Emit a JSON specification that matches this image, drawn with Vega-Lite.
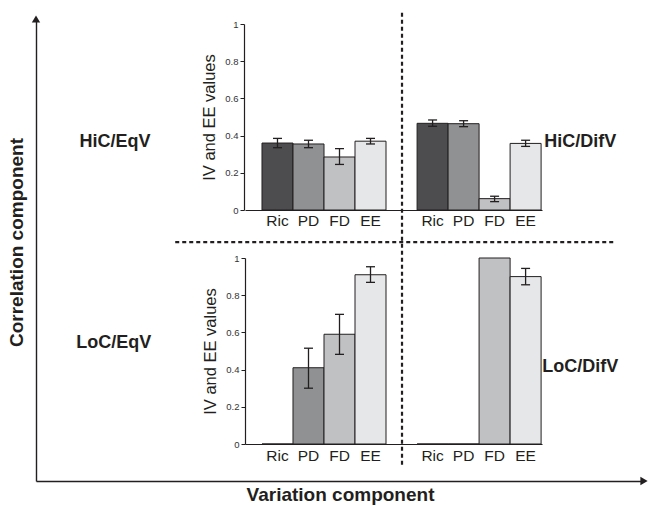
{
  "$schema": "https://vega.github.io/schema/vega-lite/v6.json",
  "width": 608,
  "height": 462,
  "autosize": {"type": "none"},
  "padding": {"left": 36, "top": 19, "right": 5, "bottom": 25},
  "background": "white",
  "config": {
    "view": {"stroke": null},
    "font": "Liberation Sans",
    "axis": {"grid": false}
  },
  "datasets": {
    "bars": [
      {"corr": "HiC", "var": "EqV", "measure": "Ric", "value": 0.36, "lo": 0.335, "hi": 0.385},
      {"corr": "HiC", "var": "EqV", "measure": "PD", "value": 0.355, "lo": 0.335, "hi": 0.375},
      {"corr": "HiC", "var": "EqV", "measure": "FD", "value": 0.285, "lo": 0.245, "hi": 0.33},
      {"corr": "HiC", "var": "EqV", "measure": "EE", "value": 0.37, "lo": 0.355, "hi": 0.385},
      {"corr": "HiC", "var": "DifV", "measure": "Ric", "value": 0.466, "lo": 0.45, "hi": 0.484},
      {"corr": "HiC", "var": "DifV", "measure": "PD", "value": 0.464, "lo": 0.448, "hi": 0.48},
      {"corr": "HiC", "var": "DifV", "measure": "FD", "value": 0.061, "lo": 0.045, "hi": 0.074},
      {"corr": "HiC", "var": "DifV", "measure": "EE", "value": 0.358, "lo": 0.342, "hi": 0.375},
      {"corr": "LoC", "var": "EqV", "measure": "Ric", "value": 0, "lo": null, "hi": null},
      {"corr": "LoC", "var": "EqV", "measure": "PD", "value": 0.41, "lo": 0.30, "hi": 0.515},
      {"corr": "LoC", "var": "EqV", "measure": "FD", "value": 0.59, "lo": 0.482, "hi": 0.697},
      {"corr": "LoC", "var": "EqV", "measure": "EE", "value": 0.91, "lo": 0.869, "hi": 0.953},
      {"corr": "LoC", "var": "DifV", "measure": "Ric", "value": 0, "lo": null, "hi": null},
      {"corr": "LoC", "var": "DifV", "measure": "PD", "value": 0, "lo": null, "hi": null},
      {"corr": "LoC", "var": "DifV", "measure": "FD", "value": 1.0, "lo": null, "hi": null},
      {"corr": "LoC", "var": "DifV", "measure": "EE", "value": 0.90, "lo": 0.856, "hi": 0.944}
    ],
    "guides": [
      {"divider": "variation split", "var_from": 0.602, "var_to": 0.602, "cor_from": 0.035, "cor_to": 1.015},
      {"divider": "correlation split", "var_from": 0.229, "var_to": 0.952, "cor_from": 0.517, "cor_to": 0.517}
    ],
    "quadrants": [
      {"label": "HiC/EqV", "var_pos": 0.13, "cor_pos": 0.734},
      {"label": "LoC/EqV", "var_pos": 0.128, "cor_pos": 0.299},
      {"label": "HiC/DifV", "var_pos": 0.895, "cor_pos": 0.734},
      {"label": "LoC/DifV", "var_pos": 0.895, "cor_pos": 0.247}
    ],
    "arrows": [
      {"axis": "correlation", "var_pos": 0, "cor_pos": 1},
      {"axis": "variation", "var_pos": 1, "cor_pos": 0}
    ]
  },
  "resolve": {
    "scale": {"x": "independent", "y": "independent"},
    "axis": {"x": "independent", "y": "independent"}
  },
  "layer": [
    {
      "layer": [
        {
          "data": {"name": "guides"},
          "mark": {"type": "rule", "strokeDash": [4, 3], "strokeWidth": 2.2, "color": "#231f20"},
          "encoding": {
            "x": {"field": "var_from", "type": "quantitative", "scale": {"domain": [0, 1], "nice": false, "zero": false},
              "axis": {"orient": "bottom", "labels": false, "ticks": false, "domainColor": "#231f20", "domainWidth": 1.4,
                "title": "Variation component", "titleFontSize": 19, "titleFontWeight": "bold", "titleColor": "#231f20", "titlePadding": 4}},
            "x2": {"field": "var_to"},
            "y": {"field": "cor_from", "type": "quantitative", "scale": {"domain": [0, 1], "nice": false, "zero": false},
              "axis": {"orient": "left", "labels": false, "ticks": false, "domainColor": "#231f20", "domainWidth": 1.4,
                "title": "Correlation component", "titleFontSize": 19, "titleFontWeight": "bold", "titleColor": "#231f20", "titlePadding": 10, "titleY": 223}},
            "y2": {"field": "cor_to"}
          }
        },
        {
          "data": {"name": "quadrants"},
          "mark": {"type": "text", "fontSize": 18, "fontWeight": "bold", "color": "#231f20", "align": "center", "baseline": "middle"},
          "encoding": {
            "x": {"field": "var_pos", "type": "quantitative", "scale": {"domain": [0, 1], "nice": false, "zero": false},
              "axis": {"orient": "bottom", "labels": false, "ticks": false, "domainColor": "#231f20", "domainWidth": 1.4,
                "title": "Variation component", "titleFontSize": 19, "titleFontWeight": "bold", "titleColor": "#231f20", "titlePadding": 4}},
            "y": {"field": "cor_pos", "type": "quantitative", "scale": {"domain": [0, 1], "nice": false, "zero": false},
              "axis": {"orient": "left", "labels": false, "ticks": false, "domainColor": "#231f20", "domainWidth": 1.4,
                "title": "Correlation component", "titleFontSize": 19, "titleFontWeight": "bold", "titleColor": "#231f20", "titlePadding": 10, "titleY": 223}},
            "text": {"field": "label"}
          }
        },
        {
          "data": {"name": "arrows"},
          "mark": {"type": "point", "filled": true, "size": 70, "color": "#231f20", "opacity": 1},
          "encoding": {
            "x": {"field": "var_pos", "type": "quantitative", "scale": {"domain": [0, 1], "nice": false, "zero": false},
              "axis": {"orient": "bottom", "labels": false, "ticks": false, "domainColor": "#231f20", "domainWidth": 1.4,
                "title": "Variation component", "titleFontSize": 19, "titleFontWeight": "bold", "titleColor": "#231f20", "titlePadding": 4}},
            "y": {"field": "cor_pos", "type": "quantitative", "scale": {"domain": [0, 1], "nice": false, "zero": false},
              "axis": {"orient": "left", "labels": false, "ticks": false, "domainColor": "#231f20", "domainWidth": 1.4,
                "title": "Correlation component", "titleFontSize": 19, "titleFontWeight": "bold", "titleColor": "#231f20", "titlePadding": 10, "titleY": 223}},
            "shape": {"field": "axis", "type": "nominal", "legend": null,
              "scale": {"domain": ["correlation", "variation"], "range": ["triangle-up", "triangle-right"]}}
          }
        }
      ]
    },
    {
      "data": {"name": "bars"},
      "transform": [{"filter": "datum.corr === 'HiC' && datum.var === 'EqV'"}],
      "encoding": {
        "x": {"field": "measure", "type": "nominal", "sort": ["Ric", "PD", "FD", "EE"],
          "scale": {"domain": ["Ric", "PD", "FD", "EE"], "range": [209, 367], "paddingInner": 0, "paddingOuter": 0.548},
          "axis": {"orient": "bottom", "offset": -271, "title": null, "ticks": false, "labelAngle": 0, "labelFontSize": 15.5, "labelColor": "#231f20", "labelPadding": 3, "domainColor": "#231f20", "domainWidth": 1.2}}
      },
      "layer": [
        {
          "mark": {"type": "bar", "stroke": "#231f20", "strokeWidth": 1},
          "encoding": {
            "y": {"field": "value", "type": "quantitative", "scale": {"domain": [0, 1], "range": [191, 5], "nice": false},
              "axis": {"orient": "left", "offset": -208, "title": "IV and EE values", "titleFontSize": 16.5, "titleFontWeight": "normal", "titleColor": "#231f20", "titlePadding": 7,
                "values": [0, 0.2, 0.4, 0.6, 0.8, 1], "format": "~g", "labelFontSize": 9.5, "labelColor": "#333333", "tickSize": 4, "tickColor": "#231f20", "domainColor": "#231f20", "domainWidth": 1.2}},
            "color": {"field": "measure", "type": "nominal", "legend": null,
              "scale": {"domain": ["Ric", "PD", "FD", "EE"], "range": ["#4d4d4f", "#8f9193", "#c0c1c3", "#e6e7e8"]}}
          }
        },
        {
          "mark": {"type": "rule", "color": "#231f20", "strokeWidth": 1.3},
          "encoding": {
            "y": {"field": "lo", "type": "quantitative", "scale": {"domain": [0, 1], "range": [191, 5], "nice": false},
              "axis": {"orient": "left", "offset": -208, "title": "IV and EE values", "titleFontSize": 16.5, "titleFontWeight": "normal", "titleColor": "#231f20", "titlePadding": 7,
                "values": [0, 0.2, 0.4, 0.6, 0.8, 1], "format": "~g", "labelFontSize": 9.5, "labelColor": "#333333", "tickSize": 4, "tickColor": "#231f20", "domainColor": "#231f20", "domainWidth": 1.2}},
            "y2": {"field": "hi"}
          }
        },
        {
          "mark": {"type": "tick", "color": "#231f20", "size": 9, "thickness": 1.3, "opacity": 1},
          "encoding": {"y": {"field": "lo", "type": "quantitative", "scale": {"domain": [0, 1], "range": [191, 5], "nice": false},
              "axis": {"orient": "left", "offset": -208, "title": "IV and EE values", "titleFontSize": 16.5, "titleFontWeight": "normal", "titleColor": "#231f20", "titlePadding": 7,
                "values": [0, 0.2, 0.4, 0.6, 0.8, 1], "format": "~g", "labelFontSize": 9.5, "labelColor": "#333333", "tickSize": 4, "tickColor": "#231f20", "domainColor": "#231f20", "domainWidth": 1.2}}}
        },
        {
          "mark": {"type": "tick", "color": "#231f20", "size": 9, "thickness": 1.3, "opacity": 1},
          "encoding": {"y": {"field": "hi", "type": "quantitative", "scale": {"domain": [0, 1], "range": [191, 5], "nice": false},
              "axis": {"orient": "left", "offset": -208, "title": "IV and EE values", "titleFontSize": 16.5, "titleFontWeight": "normal", "titleColor": "#231f20", "titlePadding": 7,
                "values": [0, 0.2, 0.4, 0.6, 0.8, 1], "format": "~g", "labelFontSize": 9.5, "labelColor": "#333333", "tickSize": 4, "tickColor": "#231f20", "domainColor": "#231f20", "domainWidth": 1.2}}}
        }
      ]
    },
    {
      "data": {"name": "bars"},
      "transform": [{"filter": "datum.corr === 'HiC' && datum.var === 'DifV'"}],
      "encoding": {
        "x": {"field": "measure", "type": "nominal", "sort": ["Ric", "PD", "FD", "EE"],
          "scale": {"domain": ["Ric", "PD", "FD", "EE"], "range": [364, 506], "paddingInner": 0, "paddingOuter": 0.29, "align": 0.95},
          "axis": {"orient": "bottom", "offset": -271, "title": null, "ticks": false, "labelAngle": 0, "labelFontSize": 15.5, "labelColor": "#231f20", "labelPadding": 3, "domainColor": "#231f20", "domainWidth": 1.2}}
      },
      "layer": [
        {
          "mark": {"type": "bar", "stroke": "#231f20", "strokeWidth": 1},
          "encoding": {
            "y": {"field": "value", "type": "quantitative", "scale": {"domain": [0, 1], "range": [191, 5], "nice": false}, "axis": null},
            "color": {"field": "measure", "type": "nominal", "legend": null,
              "scale": {"domain": ["Ric", "PD", "FD", "EE"], "range": ["#4d4d4f", "#8f9193", "#c0c1c3", "#e6e7e8"]}}
          }
        },
        {
          "mark": {"type": "rule", "color": "#231f20", "strokeWidth": 1.3},
          "encoding": {
            "y": {"field": "lo", "type": "quantitative", "scale": {"domain": [0, 1], "range": [191, 5], "nice": false}, "axis": null},
            "y2": {"field": "hi"}
          }
        },
        {
          "mark": {"type": "tick", "color": "#231f20", "size": 9, "thickness": 1.3, "opacity": 1},
          "encoding": {"y": {"field": "lo", "type": "quantitative", "scale": {"domain": [0, 1], "range": [191, 5], "nice": false}, "axis": null}}
        },
        {
          "mark": {"type": "tick", "color": "#231f20", "size": 9, "thickness": 1.3, "opacity": 1},
          "encoding": {"y": {"field": "hi", "type": "quantitative", "scale": {"domain": [0, 1], "range": [191, 5], "nice": false}, "axis": null}}
        }
      ]
    },
    {
      "data": {"name": "bars"},
      "transform": [{"filter": "datum.corr === 'LoC' && datum.var === 'EqV'"}],
      "encoding": {
        "x": {"field": "measure", "type": "nominal", "sort": ["Ric", "PD", "FD", "EE"],
          "scale": {"domain": ["Ric", "PD", "FD", "EE"], "range": [209, 367], "paddingInner": 0, "paddingOuter": 0.548},
          "axis": {"orient": "bottom", "offset": -37, "title": null, "ticks": false, "labelAngle": 0, "labelFontSize": 15.5, "labelColor": "#231f20", "labelPadding": 4, "domainColor": "#231f20", "domainWidth": 1.2}}
      },
      "layer": [
        {
          "mark": {"type": "bar", "stroke": "#231f20", "strokeWidth": 1},
          "encoding": {
            "y": {"field": "value", "type": "quantitative", "scale": {"domain": [0, 1], "range": [425, 239], "nice": false},
              "axis": {"orient": "left", "offset": -209, "title": "IV and EE values", "titleFontSize": 16.5, "titleFontWeight": "normal", "titleColor": "#231f20", "titlePadding": 7,
                "values": [0, 0.2, 0.4, 0.6, 0.8, 1], "format": "~g", "labelFontSize": 9.5, "labelColor": "#333333", "tickSize": 4, "tickColor": "#231f20", "domainColor": "#231f20", "domainWidth": 1.2}},
            "color": {"field": "measure", "type": "nominal", "legend": null,
              "scale": {"domain": ["Ric", "PD", "FD", "EE"], "range": ["#4d4d4f", "#8f9193", "#c0c1c3", "#e6e7e8"]}}
          }
        },
        {
          "mark": {"type": "rule", "color": "#231f20", "strokeWidth": 1.3},
          "encoding": {
            "y": {"field": "lo", "type": "quantitative", "scale": {"domain": [0, 1], "range": [425, 239], "nice": false},
              "axis": {"orient": "left", "offset": -209, "title": "IV and EE values", "titleFontSize": 16.5, "titleFontWeight": "normal", "titleColor": "#231f20", "titlePadding": 7,
                "values": [0, 0.2, 0.4, 0.6, 0.8, 1], "format": "~g", "labelFontSize": 9.5, "labelColor": "#333333", "tickSize": 4, "tickColor": "#231f20", "domainColor": "#231f20", "domainWidth": 1.2}},
            "y2": {"field": "hi"}
          }
        },
        {
          "mark": {"type": "tick", "color": "#231f20", "size": 9, "thickness": 1.3, "opacity": 1},
          "encoding": {"y": {"field": "lo", "type": "quantitative", "scale": {"domain": [0, 1], "range": [425, 239], "nice": false},
              "axis": {"orient": "left", "offset": -209, "title": "IV and EE values", "titleFontSize": 16.5, "titleFontWeight": "normal", "titleColor": "#231f20", "titlePadding": 7,
                "values": [0, 0.2, 0.4, 0.6, 0.8, 1], "format": "~g", "labelFontSize": 9.5, "labelColor": "#333333", "tickSize": 4, "tickColor": "#231f20", "domainColor": "#231f20", "domainWidth": 1.2}}}
        },
        {
          "mark": {"type": "tick", "color": "#231f20", "size": 9, "thickness": 1.3, "opacity": 1},
          "encoding": {"y": {"field": "hi", "type": "quantitative", "scale": {"domain": [0, 1], "range": [425, 239], "nice": false},
              "axis": {"orient": "left", "offset": -209, "title": "IV and EE values", "titleFontSize": 16.5, "titleFontWeight": "normal", "titleColor": "#231f20", "titlePadding": 7,
                "values": [0, 0.2, 0.4, 0.6, 0.8, 1], "format": "~g", "labelFontSize": 9.5, "labelColor": "#333333", "tickSize": 4, "tickColor": "#231f20", "domainColor": "#231f20", "domainWidth": 1.2}}}
        }
      ]
    },
    {
      "data": {"name": "bars"},
      "transform": [{"filter": "datum.corr === 'LoC' && datum.var === 'DifV'"}],
      "encoding": {
        "x": {"field": "measure", "type": "nominal", "sort": ["Ric", "PD", "FD", "EE"],
          "scale": {"domain": ["Ric", "PD", "FD", "EE"], "range": [364, 506], "paddingInner": 0, "paddingOuter": 0.29, "align": 0.95},
          "axis": {"orient": "bottom", "offset": -37, "title": null, "ticks": false, "labelAngle": 0, "labelFontSize": 15.5, "labelColor": "#231f20", "labelPadding": 4, "domainColor": "#231f20", "domainWidth": 1.2}}
      },
      "layer": [
        {
          "mark": {"type": "bar", "stroke": "#231f20", "strokeWidth": 1},
          "encoding": {
            "y": {"field": "value", "type": "quantitative", "scale": {"domain": [0, 1], "range": [425, 239], "nice": false}, "axis": null},
            "color": {"field": "measure", "type": "nominal", "legend": null,
              "scale": {"domain": ["Ric", "PD", "FD", "EE"], "range": ["#4d4d4f", "#8f9193", "#c0c1c3", "#e6e7e8"]}}
          }
        },
        {
          "mark": {"type": "rule", "color": "#231f20", "strokeWidth": 1.3},
          "encoding": {
            "y": {"field": "lo", "type": "quantitative", "scale": {"domain": [0, 1], "range": [425, 239], "nice": false}, "axis": null},
            "y2": {"field": "hi"}
          }
        },
        {
          "mark": {"type": "tick", "color": "#231f20", "size": 9, "thickness": 1.3, "opacity": 1},
          "encoding": {"y": {"field": "lo", "type": "quantitative", "scale": {"domain": [0, 1], "range": [425, 239], "nice": false}, "axis": null}}
        },
        {
          "mark": {"type": "tick", "color": "#231f20", "size": 9, "thickness": 1.3, "opacity": 1},
          "encoding": {"y": {"field": "hi", "type": "quantitative", "scale": {"domain": [0, 1], "range": [425, 239], "nice": false}, "axis": null}}
        }
      ]
    }
  ]
}
